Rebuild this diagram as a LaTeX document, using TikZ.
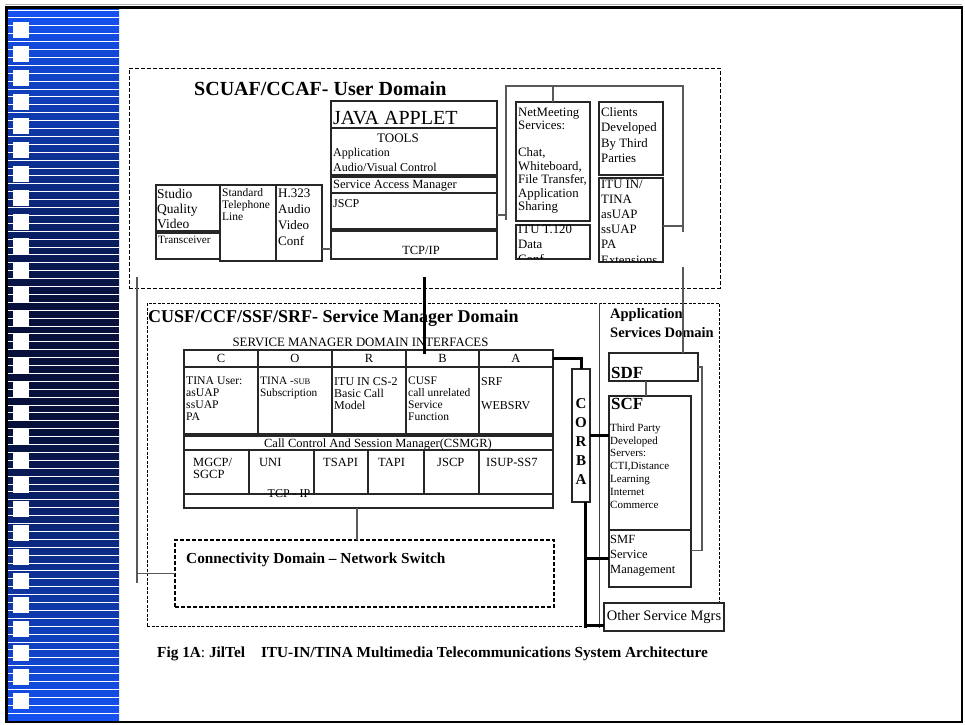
\documentclass[tikz,border=0pt]{standalone}
\usepackage{fontspec}
\setmainfont{Liberation Serif}
\definecolor{stripTop}{RGB}{20,82,242}
\definecolor{stripMid}{RGB}{6,16,58}
\newcommand{\fsz}[2]{\fontsize{#1}{#2}\selectfont}

\begin{document}
\begin{tikzpicture}[x=1pt, y=-1pt,
  box/.style={draw=black!85, line width=1.1pt, anchor=north west,
    inner sep=0pt, outer sep=0pt},
  dom/.style={draw, line width=0.8pt, dash pattern=on 4pt off 2pt,
    anchor=north west, inner sep=0pt, outer sep=0pt},
  txt/.style={anchor=north west, inner sep=0pt, align=left},
  link/.style={draw=black!65, line width=1.1pt},
  bus/.style={draw=black, line width=3pt}
]
  \useasboundingbox (0,0) rectangle (965,724);

  % slide strip
  \shade[top color=stripTop, bottom color=stripMid] (8,8) rectangle (119,301);
  \fill[stripMid] (8,300) rectangle (119,431);
  \shade[top color=stripMid, bottom color=stripTop] (8,430) rectangle (119,721);
  \foreach \i in {0,...,89}
    \draw[white, line width=0.9pt] (8,{10+7.9*\i}) -- (119,{10+7.9*\i});
  \foreach \i in {0,...,28}
    \fill[white] (13,{22+23.96*\i}) rectangle ++(16,16);
  \draw[black!30, line width=1pt] (5,4.5) -- (962,4.5);
  \draw[line width=2.5pt] (6.5,7.5) rectangle (962,722);

  % user domain
  \node[dom, minimum width=591pt, minimum height=220pt] (userdom) at (129,68) {};
  \node[txt, anchor=base west, font=\bfseries\fsz{20}{22}] (usertitle) at (194,95)
    {SCUAF/CCAF- User Domain};

  \node[box, minimum width=166pt, minimum height=27pt] (java) at (331,101) {};
  \node[txt, anchor=base west, font=\fsz{20}{20}] (javatxt) at (333,124) {JAVA APPLET};
  \node[box, minimum width=166pt, minimum height=47pt] (tools) at (331,128) {};
  \node[txt, anchor=base, font=\fsz{13}{13}] (toolstxt) at (398,142) {TOOLS};
  \node[txt, font=\fsz{12}{15.5}] (toolsapp) at (333,147.5)
    {Application\\Audio/Visual Control};
  \node[box, minimum width=166pt, minimum height=16pt] (sam) at (331,177) {};
  \node[txt, anchor=base west, font=\fsz{12.5}{13}] (samtxt) at (333,188)
    {Service Access Manager};
  \node[box, minimum width=166pt, minimum height=36pt] (jscp) at (331,193) {};
  \node[txt, anchor=base west, font=\fsz{12}{12}] (jscptxt) at (333,207) {JSCP};
  \node[box, minimum width=166pt, minimum height=28pt] (tcpip) at (331,231) {};
  \node[txt, anchor=base, font=\fsz{12.5}{13}] (tcptxt) at (421,254) {TCP/IP};

  \node[box, minimum width=64pt, minimum height=46pt] (studio) at (156,185) {};
  \node[box, minimum width=64pt, minimum height=26pt] (transc) at (156,233) {};
  \node[txt, font=\fsz{13.5}{15}] (studiotxt) at (157,188.5) {Studio\\Quality\\Video};
  \node[txt, anchor=base west, font=\fsz{11.2}{12}] (transctxt) at (158,243)
    {Transceiver};
  \node[box, minimum width=56pt, minimum height=76pt] (phone) at (220,185) {};
  \node[txt, font=\fsz{11.5}{12}] (phonetxt) at (222,188.5)
    {Standard\\Telephone\\Line};
  \node[box, minimum width=46pt, minimum height=76pt] (h323) at (276,185) {};
  \node[txt, font=\fsz{13}{16}] (h323txt) at (278,188.5) {H.323\\Audio\\Video\\Conf};

  \node[box, minimum width=74pt, minimum height=119pt] (netm) at (516,102) {};
  \node[box, minimum width=74pt, minimum height=34pt] (netmlow) at (516,225) {};
  \node[txt, font=\fsz{12.8}{13.5}] (netmtxt) at (518,107.5)
    {NetMeeting\\Services:\\[13.5pt]Chat,\\Whiteboard,\\File Transfer,\\Application\\Sharing};
  \begin{scope}
    \clip (516,221) rectangle (590,258.5);
    \node[txt, font=\fsz{12.8}{15}] (netmlowtxt) at (518,224.5) {ITU T.120\\Data\\Conf};
  \end{scope}

  \node[box, minimum width=64pt, minimum height=73pt] (clients) at (599,102) {};
  \node[box, minimum width=64pt, minimum height=84pt] (clientslow) at (599,178) {};
  \node[txt, font=\fsz{12.8}{15.3}] (clientstxt) at (601,107.5)
    {Clients\\Developed\\By Third\\Parties};
  \begin{scope}
    \clip (599,175) rectangle (663,261);
    \node[txt, font=\fsz{12.8}{15.2}] (clientslowtxt) at (601,179.5)
      {ITU IN/\\TINA\\asUAP\\ssUAP\\PA\\Extensions};
  \end{scope}

  \path ([yshift=-4pt]jscp.east) coordinate (j1);
  \coordinate (brl) at (506,86);
  \coordinate (brlb) at (506,220);
  \coordinate (brr) at (683,86);
  \coordinate (brb) at (683,232);
  \draw[link] (j1) -- (j1 -| brl);
  \draw[link] (brlb) -- (brl) -- (brr) -- (brb);
  \draw[link] (netm.north) -- (netm.north |- brl);
  \path ([yshift=-6pt]clientslow.east) coordinate (c1);
  \draw[link] (c1) -- (c1 -| brr);
  \path (tcpip.west) ++(0,4) coordinate (t1);
  \draw[link] (t1) -- (t1 -| h323.east);

  % service manager domain
  \node[dom, line width=0.7pt, dash pattern=on 3pt off 1.5pt,
    minimum width=572pt, minimum height=323pt] (smdom) at (147,303) {};
  \node[txt, anchor=base west, font=\bfseries\fsz{18}{18}] (smtitle) at (148,322.5)
    {CUSF/CCF/SSF/SRF- Service Manager Domain};
  \node[txt, anchor=base, font=\fsz{12.8}{13}] (ifaces) at (360.5,346.5)
    {SERVICE MANAGER DOMAIN INTERFACES};

  \foreach \x/\w/\l/\n in {184/74/C/C, 258/74/O/O, 332/74/R/R, 406/73/B/B, 479/74/A/A}{
    \node[box, minimum width=\w pt, minimum height=17pt, font=\fsz{12.5}{13}]
      (h\n) at (\x,350) {\l};
    \node[box, minimum width=\w pt, minimum height=67pt] (c\n) at (\x,367) {};
  }
  \node[txt, font=\fsz{11.7}{12}] (cCtxt) at (186,377) {TINA User:\\asUAP\\ssUAP\\PA};
  \node[txt, font=\fsz{11.3}{12}] (cOtxt) at (260,377)
    {TINA -{\fsz{8.5}{9}SUB}\\Subscription};
  \node[txt, font=\fsz{12}{12}] (cRtxt) at (334,377) {ITU IN CS-2\\Basic Call\\Model};
  \node[txt, font=\fsz{11.5}{12}] (cBtxt) at (408,377)
    {CUSF\\call unrelated\\Service\\Function};
  \node[txt, font=\fsz{12}{12}] (cAtxt) at (481,377) {SRF\\[12pt]WEBSRV};

  \node[box, minimum width=369pt, minimum height=14pt] (csmgr) at (184,436) {};
  \node[txt, anchor=base, font=\fsz{12.5}{13}] (csmgrtxt) at (378,447)
    {Call Control And Session Manager(CSMGR)};

  \foreach \x/\w/\n in {184/65/M, 249/65/U, 314/54/TS, 368/56/TA, 424/55/J, 479/74/I}
    \node[box, minimum width=\w pt, minimum height=44pt] (p\n) at (\x,450) {};
  \node[txt, font=\fsz{12.5}{12}] (pMtxt) at (193,458) {MGCP/\\SGCP};
  \node[txt, font=\fsz{12.5}{12}] (pUtxt) at (259,458) {UNI};
  \node[txt, font=\fsz{12.5}{12}] (pTStxt) at (323,458) {TSAPI};
  \node[txt, font=\fsz{12.5}{12}] (pTAtxt) at (378,458) {TAPI};
  \node[txt, font=\fsz{12.5}{12}] (pJtxt) at (437,458) {JSCP};
  \node[txt, font=\fsz{12.5}{12}] (pItxt) at (486,458) {ISUP-SS7};

  \node[box, minimum width=369pt, minimum height=14pt] (tcprow) at (184,494) {};
  \node[txt, anchor=base, font=\fsz{12}{12}] (tcprowtxt) at (289,497.5) {TCP - IP};

  \coordinate (ubus) at (424,277);
  \draw[bus] (ubus) -- (ubus |- hB.north) -- ++(0,4);

  % connectivity domain
  \node[dom, line width=1.3pt, minimum width=379pt, minimum height=67pt] (conn)
    at (175,540) {};
  \node[txt, anchor=base west, font=\bfseries\fsz{15.3}{16}] (conntxt) at (186,563)
    {Connectivity Domain -- Network Switch};
  \path (tcprow.south) ++(-11.5,0) coordinate (cd);
  \draw[link] (cd) -- (cd |- conn.north);
  \coordinate (ll) at (137,277);
  \coordinate (llb) at (137,583);
  \draw[link] (ll) -- (llb);
  \draw[link] (conn.west) -- (conn.west -| ll);

  % application services domain
  \coordinate (asd) at (599,303);
  \coordinate (asdb) at (599,628);
  \draw[black!75, line width=0.8pt] (asd) -- (asdb);
  \node[txt, font=\bfseries\fsz{14.5}{19}] (apptxt) at (610,308.5)
    {Application\\Services Domain};
  \node[box, minimum width=89pt, minimum height=28pt] (sdf) at (609,353) {};
  \node[txt, anchor=base west, font=\bfseries\fsz{17}{17}] (sdftxt) at (611,378) {SDF};
  \node[box, minimum width=82pt, minimum height=134pt] (scf) at (609,396) {};
  \node[txt, anchor=base west, font=\bfseries\fsz{17}{17}] (scftxt) at (611,409.5) {SCF};
  \node[txt, font=\fsz{11}{12.8}] (scfdesc) at (610,423.5)
    {Third Party\\Developed\\Servers:\\CTI,Distance\\Learning\\Internet\\Commerce};
  \node[box, minimum width=82pt, minimum height=57pt] (smf) at (609,530) {};
  \node[txt, font=\fsz{12.5}{15}] (smftxt) at (610,535) {SMF\\Service\\Management};

  \coordinate (asl) at (683,267);
  \draw[link] (asl) -- (asl |- sdf.north);
  \path (sdf.south) ++(-7.5,0) coordinate (s1);
  \draw[link] (s1) -- (s1 |- scf.north);
  \coordinate (rbt) at (702,367);
  \path ([yshift=8pt]smf.east) coordinate (m1);
  \draw[link] (sdf.east) -- (rbt) |- (m1);

  \node[box, minimum width=120pt, minimum height=28pt, fill=white,
    font=\fsz{14.5}{15}] (osm) at (604,603) {Other Service Mgrs};

  % corba bus
  \node[box, minimum width=18pt, minimum height=133pt] (corba) at (572,369) {};
  \node[txt, anchor=north, align=center, font=\bfseries\fsz{15}{19.2}] (corbatxt)
    at (581,398) {C\\O\\R\\B\\A};
  \draw[bus] (hA.east) -| (corba.north);
  \draw[bus] (corba.east) -- (corba.east -| scf.west);
  \path (corba.south) ++(4,0) coordinate (cb);
  \coordinate (cbb) at (585,628);
  \draw[bus] (cb) -- (cbb);
  \draw[bus] (cb |- smf.west) -- (smf.west);
  \path ([yshift=-8pt]osm.west) coordinate (o1);
  \draw[bus] (o1 -| cb) -- (o1);

  \node[txt, anchor=base west, font=\bfseries\fsz{15.3}{15}] (caption) at (157,657)
    {Fig 1A{\mdseries:} JilTel\hspace{16pt}ITU-IN/TINA Multimedia Telecommunications System Architecture};
\end{tikzpicture}
\end{document}
